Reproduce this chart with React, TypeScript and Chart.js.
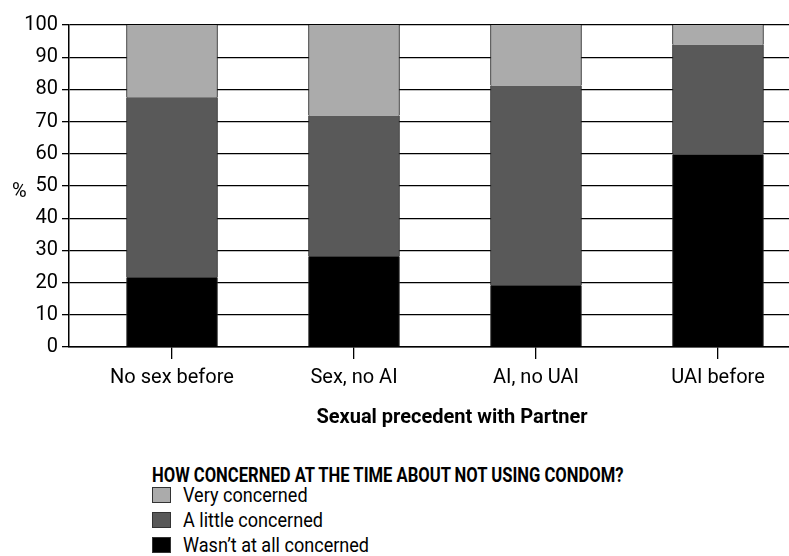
import React, { useEffect, useRef } from "react";
import { Chart, registerables } from "chart.js";

Chart.register(...registerables);

const categories = ["No sex before", "Sex, no AI", "AI, no UAI", "UAI before"];
const notConcerned = [21.7, 28.2, 19.2, 59.8];
const littleConcerned = [55.9, 43.7, 62.0, 34.1];
const veryConcerned = [22.4, 28.1, 18.8, 6.1];
const seriesLabels = ["Wasn\u2019t at all concerned", "A little concerned", "Very concerned"];
const seriesColors = ["#000000", "#595959", "#ababab"];
const legendTitle = "HOW CONCERNED AT THE TIME ABOUT NOT USING CONDOM?";
const xTitle = "Sexual precedent with Partner";
const yTitle = "%";

const FONT = "Roboto, 'Liberation Sans', Arial, sans-serif";

export default function App() {
  const ref = useRef<HTMLCanvasElement | null>(null);

  useEffect(() => {
    const canvas = ref.current;
    if (!canvas) return;
    const series = [notConcerned, littleConcerned, veryConcerned];
    const chart = new Chart(canvas, {
      type: "bar",
      data: {
        datasets: series.map((vals, si) => ({
          label: seriesLabels[si],
          data: vals.map((v, i) => ({ x: i, y: v })),
          backgroundColor: seriesColors[si],
          borderColor: "#222",
          borderWidth: { left: 1, right: 1, top: 0, bottom: 0 },
          borderSkipped: false,
          barThickness: 91,
        })),
      },
      options: {
        animation: false,
        responsive: false,
        devicePixelRatio: 1,
        layout: { padding: { top: 25, right: 5, left: 0, bottom: 10 } },
        plugins: { legend: { display: false }, tooltip: { enabled: false } },
        scales: {
          x: {
            type: "linear",
            stacked: true,
            offset: false,
            min: -0.566,
            max: 3.643,
            afterBuildTicks: (s: any) => {
              s.ticks = categories.map((_, i) => ({ value: i }));
            },
            afterFit: (s: any) => {
              s.height = 83;
            },
            ticks: {
              callback: (v: any) => categories[v as number] ?? "",
              font: { family: FONT, size: 20 },
              color: "#000",
              padding: 7,
              maxRotation: 0,
              autoSkip: false,
            },
            grid: { offset: false, drawOnChartArea: false, drawTicks: true, tickLength: 12, color: "#000", lineWidth: 1.3 },
            border: { display: true, color: "#000", width: 1.5 },
            title: {
              display: true,
              text: xTitle,
              font: { family: FONT, size: 20, weight: "bold" },
              color: "#000",
              padding: { top: 4, bottom: 0 },
            },
          },
          y: {
            stacked: true,
            min: 0,
            max: 100,
            afterFit: (s: any) => {
              s.width = 69;
            },
            ticks: { stepSize: 10, font: { family: FONT, size: 20 }, color: "#000", padding: 4 },
            grid: { color: "#000", tickLength: 7, lineWidth: 1.3 },
            border: { display: true, color: "#000", width: 1.5 },
          },
        },
      },
    } as any);
    return () => chart.destroy();
  }, []);

  const legendItems = [2, 1, 0];

  return (
    <div
      style={{
        position: "absolute",
        left: 0,
        top: 0,
        width: 789,
        height: 556,
        overflow: "hidden",
        background: "#fff",
        fontFamily: FONT,
        color: "#000",
      }}
    >
      <canvas ref={ref} width={840} height={440} style={{ display: "block", width: 840, height: 440 }} />
      <div style={{ position: "absolute", left: 12, top: 180, fontSize: 20, lineHeight: "20px" }}>{yTitle}</div>
      <div
        style={{
          position: "absolute",
          left: 152,
          top: 465,
          fontSize: 20,
          lineHeight: "20px",
          fontWeight: "bold",
          whiteSpace: "nowrap",
          transform: "scaleX(0.83)",
          transformOrigin: "left center",
        }}
      >
        {legendTitle}
      </div>
      {legendItems.map((si, row) => (
        <div
          key={si}
          style={{
            position: "absolute",
            left: 152,
            top: 485 + row * 25,
            height: 20,
            display: "flex",
            alignItems: "center",
            whiteSpace: "nowrap",
          }}
        >
          <span
            style={{
              display: "inline-block",
              width: 17,
              height: 14,
              background: seriesColors[si],
              border: "1px solid #333",
            }}
          />
          <span
            style={{
              marginLeft: 12,
              fontSize: 21,
              lineHeight: "20px",
              display: "inline-block",
              transform: "scaleX(0.86)",
              transformOrigin: "left center",
            }}
          >
            {seriesLabels[si]}
          </span>
        </div>
      ))}
    </div>
  );
}
